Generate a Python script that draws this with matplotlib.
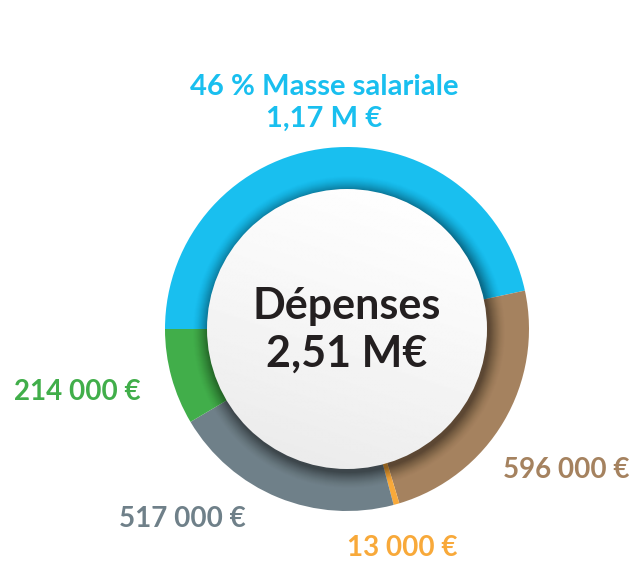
import matplotlib.pyplot as plt
import matplotlib.patches as mpatches
import numpy as np

# dépenses (en milliers d'euros), dans l'ordre horaire depuis 9 h
postes = ['Masse salariale', 'Poste 2', 'Poste 3', 'Poste 4', 'Poste 5']
montants = [1170, 596, 13, 517, 214]
couleurs = ['#19BFEF', '#A5825F', '#F8A93A', '#6F8089', '#41AE4A']
etiquettes = ['46 % Masse salariale\n1,17 M €', '596 000 €', '13 000 €', '517 000 €', '214 000 €']
titre_centre = 'Dépenses\n2,51 M€'

H = 563
cx, cy = 347, H - 329
R = 182
r_in = 140

plt.rcParams['font.family'] = ['Lato', 'DejaVu Sans']

fig = plt.figure(figsize=(6.37, 5.63), dpi=100)
ax = fig.add_axes([0, 0, 1, 1])

ax.pie(montants, colors=couleurs, startangle=180, counterclock=False,
       center=(cx, cy), radius=R, wedgeprops=dict(width=70, linewidth=0))

# ombre autour du disque central
for i, a in zip(range(16, 0, -1), np.linspace(0.008, 0.055, 16)):
    ax.add_patch(mpatches.Circle((cx + 2, cy - 3), r_in + i, color='black',
                                 alpha=a, linewidth=0, zorder=3))

# disque central en dégradé (blanc en haut, gris clair en bas à gauche)
yy, xx = np.mgrid[0:1:200j, 0:1:200j]
grad = 1 - 0.09 * np.clip(0.75 * yy + 0.25 * (1 - xx), 0, 1) ** 1.3
img = ax.imshow(grad, cmap='gray', vmin=0, vmax=1, origin='upper',
                extent=(cx - r_in, cx + r_in, cy - r_in, cy + r_in), zorder=4)
disque = mpatches.Circle((cx, cy), r_in, transform=ax.transData)
img.set_clip_path(disque)

ax.text(cx, H - 330, titre_centre, ha='center', va='center', fontsize=31,
        fontweight='bold', color='#231F20', linespacing=1.25, zorder=5)

# étiquettes
pos = [(324, H - 103), (566, H - 470), (402, H - 548), (182, H - 519), (77, H - 392)]
for txt, c, (x, y) in zip(etiquettes, couleurs, pos):
    ax.text(x, y, txt, ha='center', va='center', fontsize=21 if '\n' in txt else 20,
            fontweight='bold', color=c, linespacing=1.3)

ax.set_xlim(0, 637)
ax.set_ylim(0, H)
ax.set_aspect('equal')
ax.axis('off')

fig.savefig('out.png', dpi=100)
